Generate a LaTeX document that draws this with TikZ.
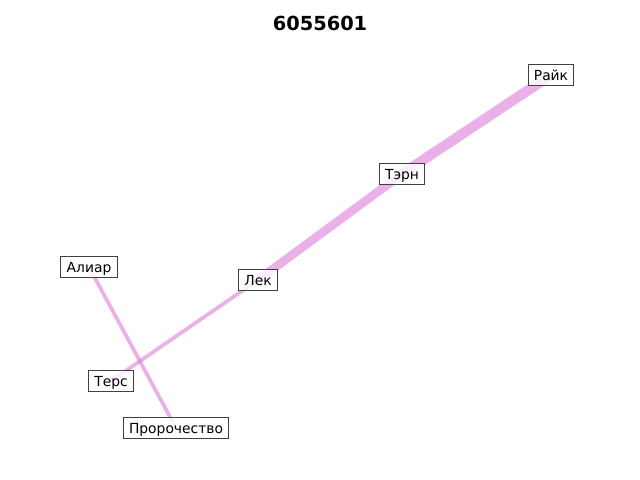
\documentclass[tikz,border=0pt]{standalone}
\usepackage{fontspec}
\setmainfont{DejaVu Sans}
\usetikzlibrary{backgrounds}
\definecolor{edgecol}{RGB}{218,112,214}
\definecolor{boxline}{RGB}{64,64,64}
\tikzset{
  lbl/.style={draw=boxline, line width=0.8pt, fill=white, fill opacity=0.8,
    text opacity=1, font=\fontsize{10}{12}\selectfont, inner xsep=4.2pt,
    inner ysep=3.8pt, text height=7.6pt, text depth=0.2pt},
  link/.style={draw=edgecol, draw opacity=0.55, line cap=butt},
}
\begin{document}
\begin{tikzpicture}[x=0.01in, y=-0.01in]
  \useasboundingbox (0,0) rectangle (640,480);
  \node[font=\fontsize{14}{16}\selectfont\bfseries] (title) at (320,23) {6055601};
  \node[lbl] (rajk) at (551,75) {Райк};
  \node[lbl] (tern) at (402,174) {Тэрн};
  \node[lbl] (lek) at (258,280) {Лек};
  \node[lbl] (aliar) at (89,267) {Алиар};
  \node[lbl] (ters) at (111,381) {Терс};
  \node[lbl] (pror) at (176,428) {Пророчество};
  \begin{scope}[on background layer]
    \draw[link, line width=7.4pt] (rajk.center) -- (tern.center);
    \draw[link, line width=6.2pt] (tern.center) -- (lek.center);
    \draw[link, line width=2.7pt] (lek.center) -- (ters.center);
    \draw[link, line width=2.7pt] (aliar.center) -- (pror.center);
  \end{scope}
\end{tikzpicture}
\end{document}
